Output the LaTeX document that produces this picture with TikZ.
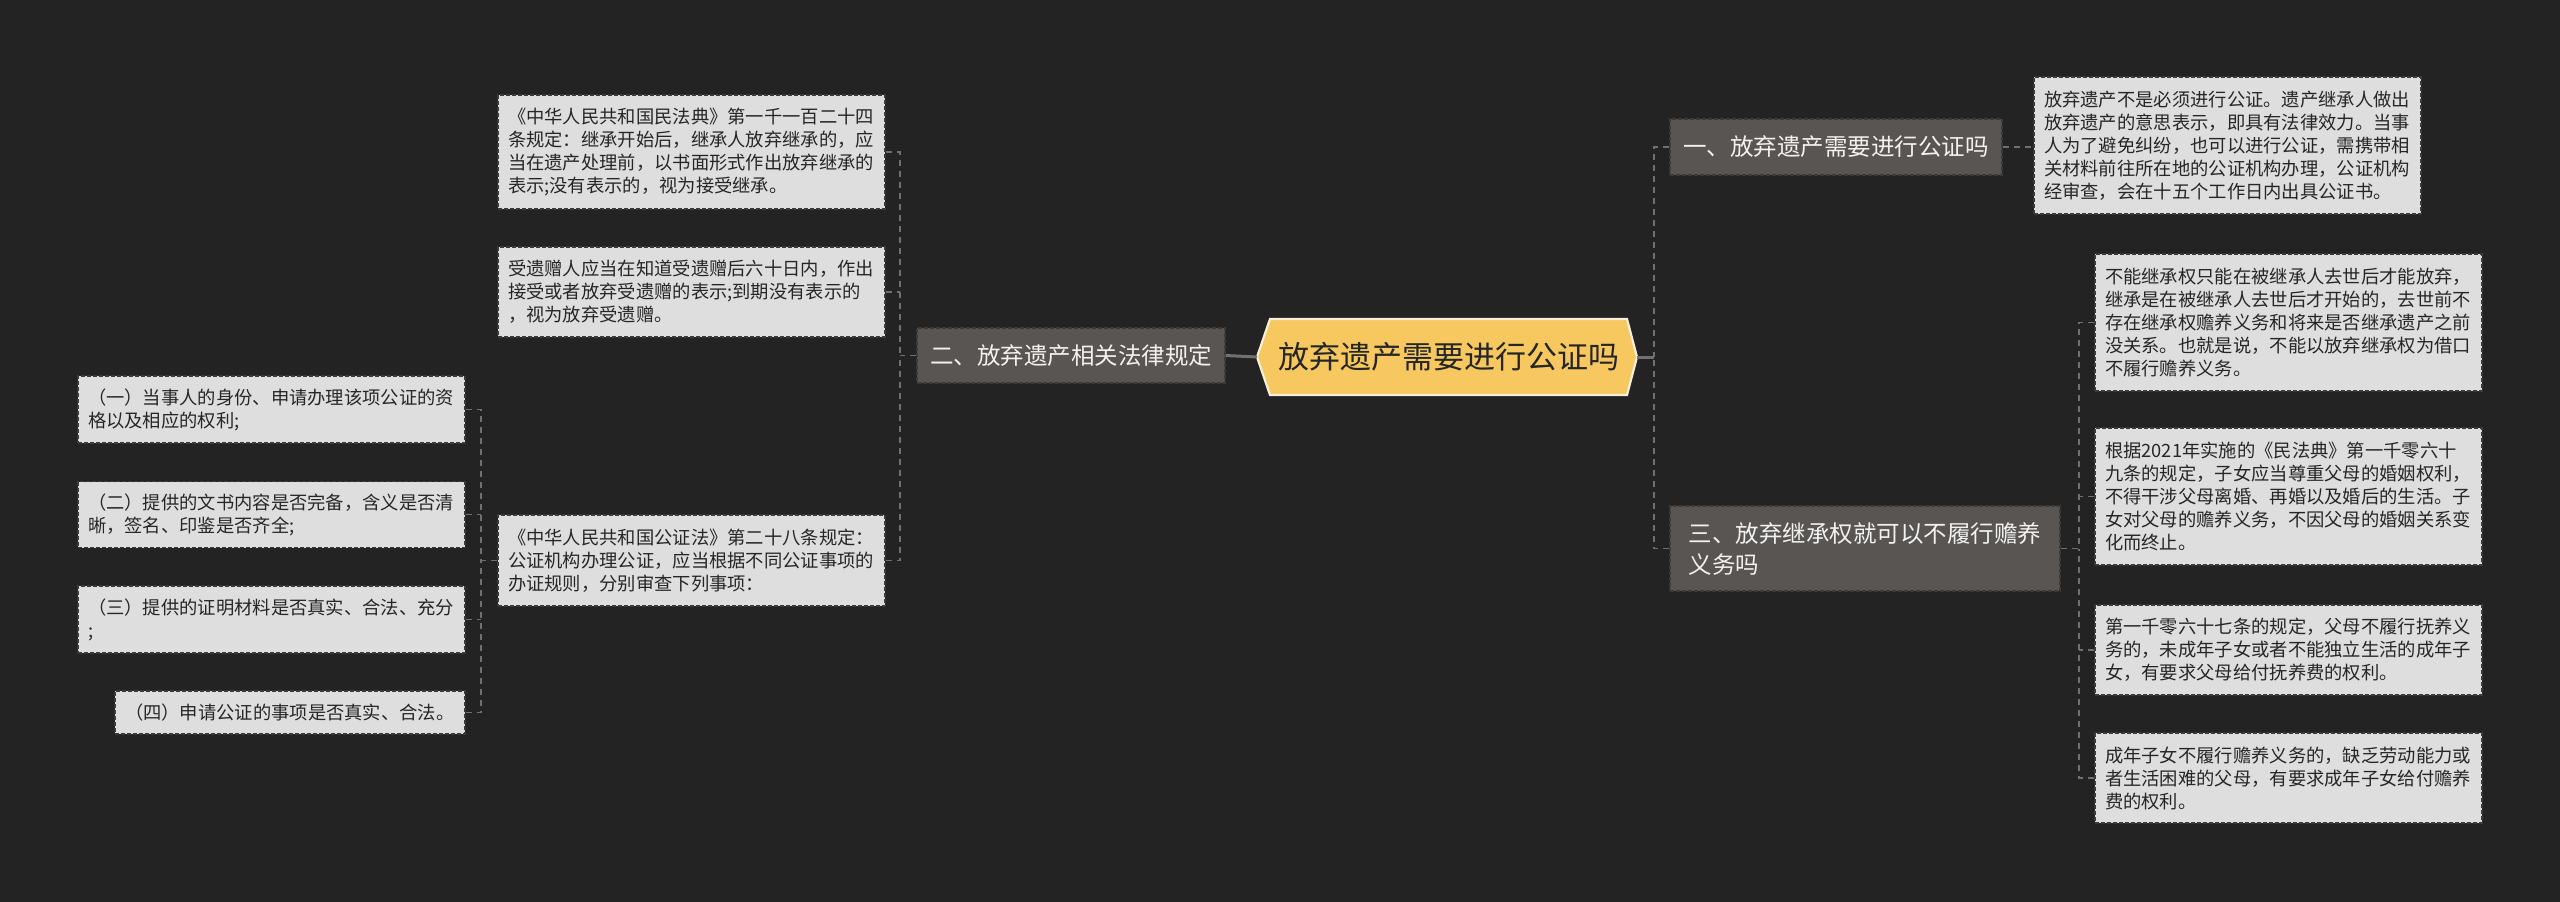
\documentclass[tikz,border=0pt]{standalone}
\usepackage{fontspec}
\setmainfont{Noto Sans CJK SC}
\definecolor{bg}{HTML}{232323}
\definecolor{leaffill}{HTML}{DEDEDE}
\definecolor{leafline}{HTML}{3A3A3A}
\definecolor{brfill}{HTML}{595552}
\definecolor{brline}{HTML}{3C3A38}
\definecolor{rootfill}{HTML}{F6C85F}
\definecolor{rootline}{HTML}{F5EEDB}
\definecolor{conn}{HTML}{707070}
\definecolor{leaftext}{HTML}{262626}
\tikzset{
  leaf/.style={draw=leafline, fill=leaffill, dash pattern=on 4pt off 2pt, line width=1.2pt,
    text=leaftext, font=\fontsize{18.3}{23}\selectfont, align=left, inner xsep=10pt, inner ysep=0pt,
    text width=367pt, minimum width=387pt},
  branch/.style={draw=brline, fill=brfill, dash pattern=on 4pt off 2pt, line width=1.2pt,
    text=white!95!black, font=\fontsize{23.5}{31}\selectfont, inner ysep=0pt},
  dl/.style={draw=conn, line width=1.6pt, dash pattern=on 6pt off 5pt},
  sl/.style={draw=conn, line width=3pt},
}
\begin{document}
\begin{tikzpicture}[x=1pt,y=-1pt]
\useasboundingbox (0,0) rectangle (2560,902);
\fill[bg] (0,0) rectangle (2560,902);

% root
\coordinate (rootL) at (1257,357);
\coordinate (rootR) at (1637,357);
\draw[fill=rootfill, draw=rootline, line width=2.2pt, line join=miter]
  (rootL) -- (1270,319) -- (1627,319) -- (rootR) -- (1627,395) -- (1270,395) -- cycle;
\node[font=\fontsize{31}{36}\selectfont, text=leaftext, inner sep=0pt] (root) at (1448.5,357) {放弃遗产需要进行公证吗};

% branches
\node[branch, minimum width=308pt, minimum height=55pt] (b2) at (1071,355.5) {二、放弃遗产相关法律规定};
\node[branch, minimum width=332pt, minimum height=56pt] (b1) at (1836,147) {一、放弃遗产需要进行公证吗};
\node[branch, minimum width=390pt, minimum height=85pt, align=left, text width=353pt, inner xsep=18.5pt] (b3) at (1865,548.5) {三、放弃继承权就可以不履行赡养\\义务吗};

% left leaves
\node[leaf, minimum height=114pt] (l21) at (691.5,152) {《中华人民共和国民法典》第一千一百二十四\\条规定：继承开始后，继承人放弃继承的，应\\当在遗产处理前，以书面形式作出放弃继承的\\表示;没有表示的，视为接受继承。};
\node[leaf, minimum height=90pt] (l22) at (691.5,292) {受遗赠人应当在知道受遗赠后六十日内，作出\\接受或者放弃受遗赠的表示;到期没有表示的\\，视为放弃受遗赠。};
\node[leaf, minimum height=91pt] (l23) at (691.5,560.5) {《中华人民共和国公证法》第二十八条规定：\\公证机构办理公证，应当根据不同公证事项的\\办证规则，分别审查下列事项：};

\node[leaf, minimum height=67pt] (c1) at (271.5,409.5) {（一）当事人的身份、申请办理该项公证的资\\格以及相应的权利;};
\node[leaf, minimum height=66pt] (c2) at (271.5,514.5) {（二）提供的文书内容是否完备，含义是否清\\晰，签名、印鉴是否齐全;};
\node[leaf, minimum height=67pt] (c3) at (271.5,619.5) {（三）提供的证明材料是否真实、合法、充分\\;};
\node[leaf, minimum height=43pt, minimum width=350pt, text width=330pt] (c4) at (290,712.5) {（四）申请公证的事项是否真实、合法。};

% right leaves
\node[leaf, minimum height=137pt] (l1) at (2227.5,145.5) {放弃遗产不是必须进行公证。遗产继承人做出\\放弃遗产的意思表示，即具有法律效力。当事\\人为了避免纠纷，也可以进行公证，需携带相\\关材料前往所在地的公证机构办理，公证机构\\经审查，会在十五个工作日内出具公证书。};
\node[leaf, minimum height=137pt] (l31) at (2288.5,322.5) {不能继承权只能在被继承人去世后才能放弃，\\继承是在被继承人去世后才开始的，去世前不\\存在继承权赡养义务和将来是否继承遗产之前\\没关系。也就是说，不能以放弃继承权为借口\\不履行赡养义务。};
\node[leaf, minimum height=137pt] (l32) at (2288.5,496.5) {根据2021年实施的《民法典》第一千零六十\\九条的规定，子女应当尊重父母的婚姻权利，\\不得干涉父母离婚、再婚以及婚后的生活。子\\女对父母的赡养义务，不因父母的婚姻关系变\\化而终止。};
\node[leaf, minimum height=90pt] (l33) at (2288.5,650) {第一千零六十七条的规定，父母不履行抚养义\\务的，未成年子女或者不能独立生活的成年子\\女，有要求父母给付抚养费的权利。};
\node[leaf, minimum height=90pt] (l34) at (2288.5,778) {成年子女不履行赡养义务的，缺乏劳动能力或\\者生活困难的父母，有要求成年子女给付赡养\\费的权利。};

% connectors
\draw[sl] (rootL) -- (b2.east);
\coordinate (v1) at (1654,357);
\draw[sl] (rootR) -- (v1);
\draw[dl] (b1.west) -| (v1);
\draw[dl] (b3.west) -| (v1);
\draw[dl] (b1.east) -- (b1.east -| l1.west);

\coordinate (v3) at (2079,548.5);
\draw[dl] (b3.east) -- (v3);
\draw[dl] (l31.west) -| (v3);
\draw[dl] (l34.west) -| (v3);
\draw[dl] (l32.west) -- (l32.west -| v3);
\draw[dl] (l33.west) -- (l33.west -| v3);

\coordinate (v2) at (900,355.5);
\draw[dl] (b2.west) -- (v2);
\draw[dl] (l21.east) -| (v2);
\draw[dl] (l23.east) -| (v2);
\draw[dl] (l22.east) -- (l22.east -| v2);

\coordinate (v4) at (481,560.5);
\draw[dl] (l23.west) -- (v4);
\draw[dl] (c1.east) -| (v4);
\draw[dl] (c4.east) -| (v4);
\draw[dl] (c2.east) -- (c2.east -| v4);
\draw[dl] (c3.east) -- (c3.east -| v4);
\end{tikzpicture}
\end{document}
